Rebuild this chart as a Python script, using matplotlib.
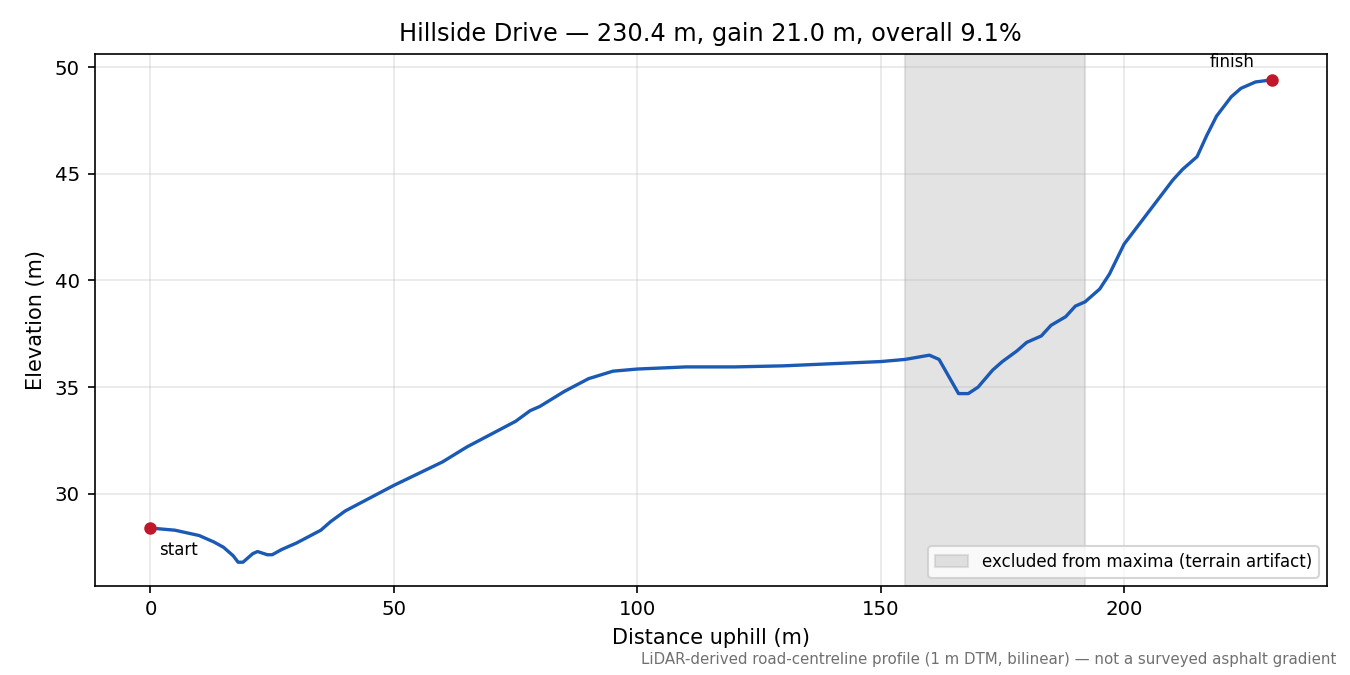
import matplotlib
matplotlib.use("Agg")
import matplotlib.pyplot as plt

dist = [0, 5, 10, 13, 15, 17, 18, 19, 21, 22, 24, 25, 27, 30, 35, 37, 40, 45, 50, 55, 60, 65,
        70, 75, 78, 80, 85, 90, 95, 100, 110, 120, 130, 135, 140, 150, 155, 160, 162, 164,
        166, 168, 170, 173, 175, 178, 180, 183, 185, 188, 190, 192, 195, 197, 200, 203, 206,
        210, 212, 215, 217, 219, 222, 224, 227, 230.4]
elev = [28.4, 28.3, 28.05, 27.75, 27.5, 27.1, 26.8, 26.8, 27.2, 27.3, 27.15, 27.15, 27.4, 27.7,
        28.3, 28.7, 29.2, 29.8, 30.4, 30.95, 31.5, 32.2, 32.8, 33.4, 33.9, 34.1, 34.8, 35.4,
        35.75, 35.85, 35.95, 35.95, 36.0, 36.05, 36.1, 36.2, 36.3, 36.5, 36.3, 35.5, 34.7,
        34.7, 35.0, 35.8, 36.2, 36.7, 37.1, 37.4, 37.9, 38.3, 38.8, 39.0, 39.6, 40.3, 41.7,
        42.6, 43.5, 44.7, 45.2, 45.8, 46.8, 47.7, 48.6, 49.0, 49.3, 49.4]
excluded = (155, 192)

fig, ax = plt.subplots(figsize=(9, 4.5), dpi=150)
fig.subplots_adjust(left=0.07, right=0.983, top=0.92, bottom=0.132)
ax.axvspan(*excluded, color="#b0b0b0", alpha=0.35, label="excluded from maxima (terrain artifact)")
ax.plot(dist, elev, color="#1a5ab5", lw=1.6)
ax.plot([dist[0], dist[-1]], [elev[0], elev[-1]], "o", color="#c0182a", ms=5, zorder=5)
ax.annotate("start", (dist[0], elev[0]), xytext=(4, -13), textcoords="offset points", fontsize=8)
ax.annotate("finish", (dist[-1], elev[-1]), xytext=(-30, 6), textcoords="offset points", fontsize=8)
ax.set_xlim(-11.5, 241.7)
ax.set_ylim(25.69, 50.61)
ax.grid(alpha=0.3)
ax.set_xlabel("Distance uphill (m)", fontsize=10)
ax.set_ylabel("Elevation (m)", fontsize=10)
ax.tick_params(labelsize=9.5)
ax.set_title("Hillside Drive — 230.4 m, gain 21.0 m, overall 9.1%", fontsize=11.5)
ax.legend(loc="lower right", fontsize=8)
fig.text(0.99, 0.012, "LiDAR-derived road-centreline profile (1 m DTM, bilinear) — not a surveyed asphalt gradient",
         ha="right", va="bottom", fontsize=7.2, color="#707070")
fig.savefig("out.png")
